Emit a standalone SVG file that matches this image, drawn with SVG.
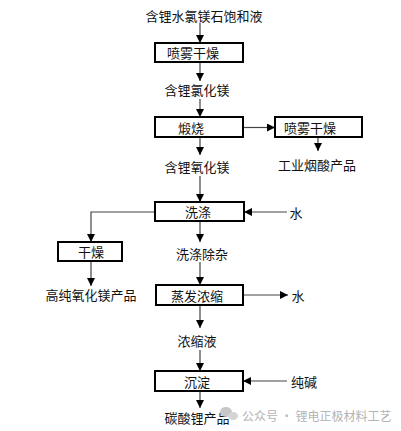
<svg xmlns="http://www.w3.org/2000/svg" width="401" height="431" viewBox="0 0 401 431">
<style>
.box{fill:#fff;stroke:#000;stroke-width:2}
.t{font-family:"Noto Sans CJK SC","Liberation Sans",sans-serif;font-size:13px;fill:#111;text-anchor:middle;dominant-baseline:central}
.c{fill:none;stroke:#444;stroke-width:1.2}
.wm{font-family:"Noto Sans CJK SC","Liberation Sans",sans-serif;font-size:12px;fill:#b4b4b4;dominant-baseline:central}
</style>
<defs>
<marker id="ah" viewBox="0 0 8 8" refX="8" refY="4" markerWidth="8" markerHeight="8" markerUnits="userSpaceOnUse" orient="auto">
<path d="M0,0 L8,4 L0,8 z" fill="#000"/>
</marker>
</defs>
<rect width="401" height="431" fill="#fff"/>
<g id="connectors">
<path class="c" d="M200,23 V43" marker-end="url(#ah)"/>
<path class="c" d="M200,62 V81" marker-end="url(#ah)"/>
<path class="c" d="M200,99 V117" marker-end="url(#ah)"/>
<path class="c" d="M243,127.5 H275" marker-end="url(#ah)"/>
<path class="c" d="M318,137 V151" marker-end="url(#ah)"/>
<path class="c" d="M200,137 V155" marker-end="url(#ah)"/>
<path class="c" d="M200,176 V202" marker-end="url(#ah)"/>
<path class="c" d="M287,212 H244" marker-end="url(#ah)"/>
<path class="c" d="M155,212 H91 V242" marker-end="url(#ah)"/>
<path class="c" d="M91,261 V286" marker-end="url(#ah)"/>
<path class="c" d="M200,221 V242" marker-end="url(#ah)"/>
<path class="c" d="M200,262 V285" marker-end="url(#ah)"/>
<path class="c" d="M243,295 H288" marker-end="url(#ah)"/>
<path class="c" d="M200,305 V328" marker-end="url(#ah)"/>
<path class="c" d="M200,350 V371" marker-end="url(#ah)"/>
<path class="c" d="M287,381 H243" marker-end="url(#ah)"/>
<path class="c" d="M200,391 V408" marker-end="url(#ah)"/>
</g>
<g id="n-title"><text class="t" x="204" y="15">含锂水氯镁石饱和液</text></g>
<g id="n-spray1"><rect class="box" x="155" y="43" width="88" height="19"/><text class="t" x="193" y="52.5">喷雾干燥</text></g>
<g id="n-mgcl"><text class="t" x="197" y="89">含锂氯化镁</text></g>
<g id="n-calc"><rect class="box" x="155" y="117" width="88" height="20"/><text class="t" x="191" y="127">煅烧</text></g>
<g id="n-spray2"><rect class="box" x="275" y="117" width="87" height="20"/><text class="t" x="310" y="127">喷雾干燥</text></g>
<g id="n-acid"><text class="t" x="317" y="164">工业烟酸产品</text></g>
<g id="n-mgo"><text class="t" x="197" y="166">含锂氧化镁</text></g>
<g id="n-wash"><rect class="box" x="155" y="202" width="89" height="19"/><text class="t" x="198" y="211.5">洗涤</text></g>
<g id="n-water1"><text class="t" x="296" y="212">水</text></g>
<g id="n-dry"><rect class="box" x="58" y="242" width="64" height="19"/><text class="t" x="91" y="251.5">干燥</text></g>
<g id="n-hpmgo"><text class="t" x="91" y="294">高纯氧化镁产品</text></g>
<g id="n-washed"><text class="t" x="202" y="253">洗涤除杂</text></g>
<g id="n-evap"><rect class="box" x="156" y="285" width="87" height="20"/><text class="t" x="197" y="295">蒸发浓缩</text></g>
<g id="n-water2"><text class="t" x="298" y="295">水</text></g>
<g id="n-conc"><text class="t" x="197" y="340">浓缩液</text></g>
<g id="n-precip"><rect class="box" x="155" y="371" width="88" height="20"/><text class="t" x="197" y="381">沉淀</text></g>
<g id="n-soda"><text class="t" x="304" y="381">纯碱</text></g>
<g id="n-li2co3"><text class="t" x="197" y="417">碳酸锂产品</text></g>
<g id="watermark">
<ellipse cx="226" cy="412" rx="6" ry="5" fill="#c8c8c8"/>
<ellipse cx="233" cy="416" rx="5" ry="4" fill="#d4d4d4"/>
<text class="wm" x="242" y="415">公众号 · 锂电正极材料工艺</text>
</g>
</svg>
